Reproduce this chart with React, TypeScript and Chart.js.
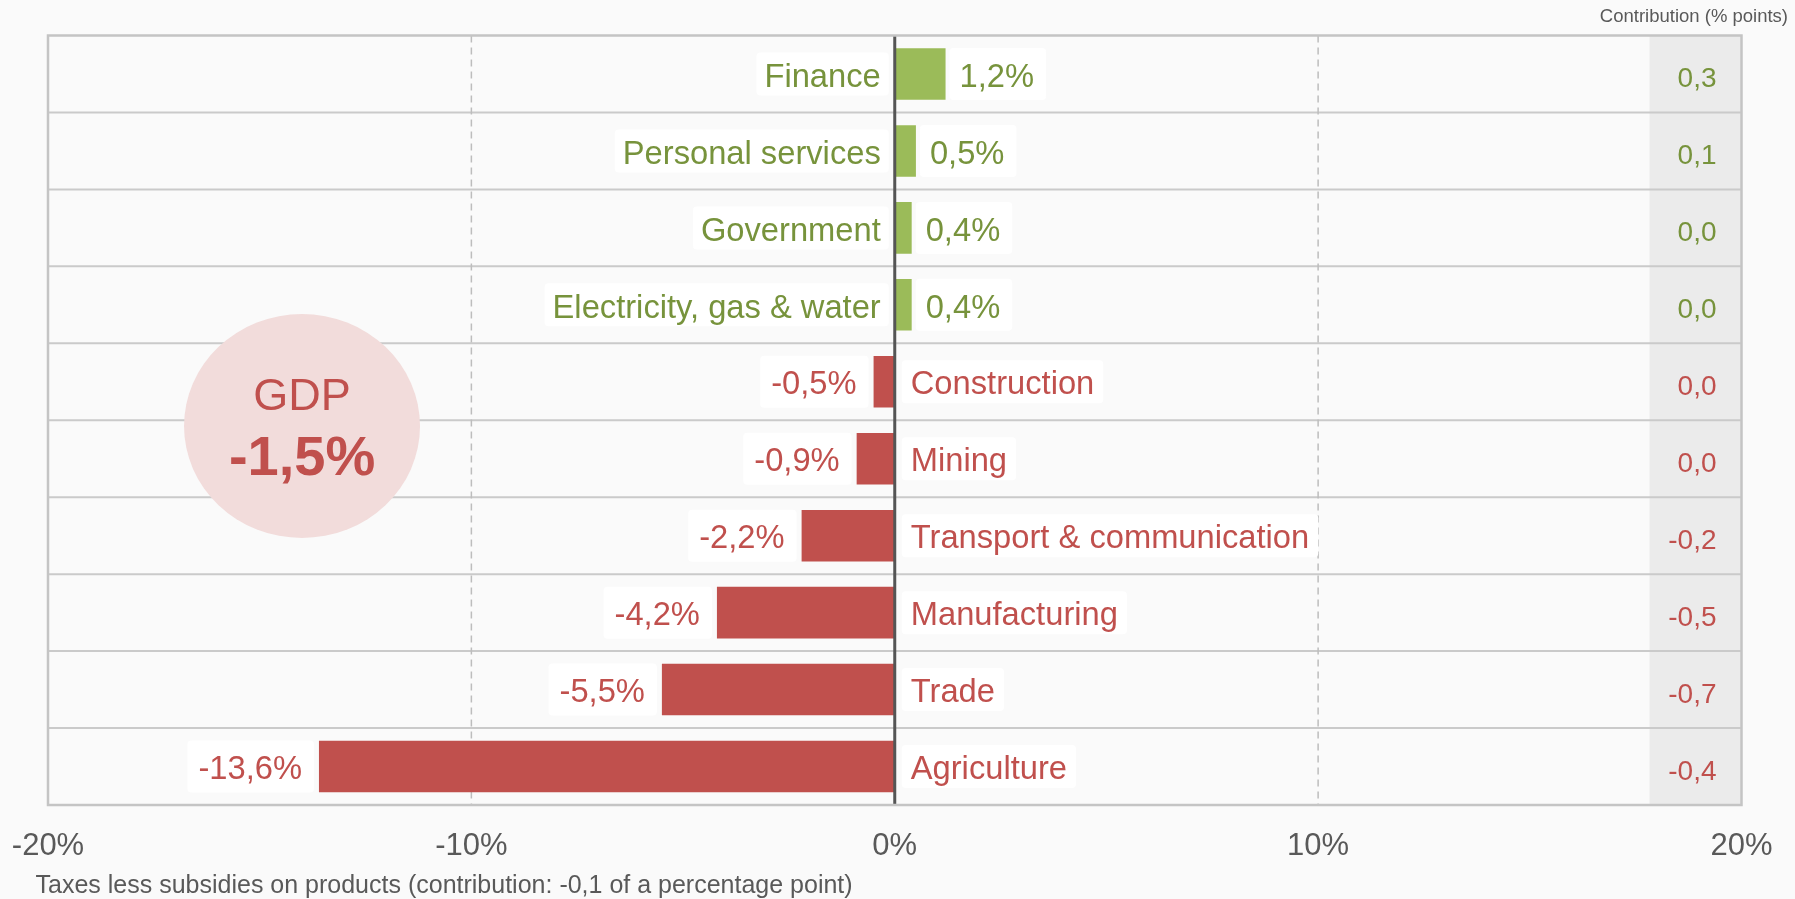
import React, { useEffect, useRef } from 'react';
import { Chart, registerables } from 'chart.js';

Chart.register(...registerables);

// ---- data ----
const categories: string[] = [
  'Finance',
  'Personal services',
  'Government',
  'Electricity, gas & water',
  'Construction',
  'Mining',
  'Transport & communication',
  'Manufacturing',
  'Trade',
  'Agriculture',
];
const growth: number[] = [1.2, 0.5, 0.4, 0.4, -0.5, -0.9, -2.2, -4.2, -5.5, -13.6];
const contribution: number[] = [0.3, 0.1, 0.0, 0.0, 0.0, 0.0, -0.2, -0.5, -0.7, -0.4];
const xTicks: number[] = [-20, -10, 0, 10, 20];
const dashedTicks: number[] = [-10, 10];
const gdpLabel = 'GDP';
const gdpGrowth = -1.5;
const contributionHeader = 'Contribution (% points)';
const footnote = 'Taxes less subsidies on products (contribution: -0,1 of a percentage point)';

// ---- styles ----
const FONT = '"Liberation Sans", Arial, Helvetica, sans-serif';
const GREEN_BAR = '#9BBB59';
const GREEN_TEXT = '#77933C';
const RED = '#C0504D';
const GREY_TEXT = '#595959';
const CAP = 0.358; // half cap-height ratio for Liberation Sans
const LABEL_SIZE = 32.7;

const fmt = (v: number) => v.toFixed(1).replace('.', ',');

function roundBox(ctx: CanvasRenderingContext2D, x: number, y: number, w: number, h: number, r: number) {
  ctx.beginPath();
  ctx.moveTo(x + r, y);
  ctx.lineTo(x + w - r, y);
  ctx.quadraticCurveTo(x + w, y, x + w, y + r);
  ctx.lineTo(x + w, y + h - r);
  ctx.quadraticCurveTo(x + w, y + h, x + w - r, y + h);
  ctx.lineTo(x + r, y + h);
  ctx.quadraticCurveTo(x, y + h, x, y + h - r);
  ctx.lineTo(x, y + r);
  ctx.quadraticCurveTo(x, y, x + r, y);
  ctx.closePath();
  ctx.fill();
}

function hLine(ctx: CanvasRenderingContext2D, x1: number, x2: number, y: number) {
  ctx.beginPath();
  ctx.moveTo(x1, y);
  ctx.lineTo(x2, y);
  ctx.stroke();
}
function vLine(ctx: CanvasRenderingContext2D, x: number, y1: number, y2: number) {
  ctx.beginPath();
  ctx.moveTo(x, y1);
  ctx.lineTo(x, y2);
  ctx.stroke();
}

const decorPlugin = {
  id: 'decor',
  beforeDraw(chart: any) {
    const { ctx, chartArea: a } = chart;
    const x = chart.scales.x;
    const y = chart.scales.y;
    ctx.save();
    ctx.fillStyle = '#FAFAFA';
    ctx.fillRect(0, 0, chart.width, chart.height);

    // contribution column
    ctx.fillStyle = '#EBEBEB';
    ctx.fillRect(a.right - 92, a.top, 92, a.bottom - a.top);

    // row separators
    ctx.strokeStyle = '#CACACA';
    ctx.lineWidth = 2;
    for (let i = 1; i < categories.length; i++) {
      const yy = (y.getPixelForValue(i - 1) + y.getPixelForValue(i)) / 2;
      hLine(ctx, a.left, a.right, yy);
    }

    // dashed gridlines
    ctx.setLineDash([7, 5]);
    ctx.strokeStyle = '#BDBDBD';
    ctx.lineWidth = 1.5;
    dashedTicks.forEach((v) => {
      const px = x.getPixelForValue(v);
      vLine(ctx, px, a.top, a.bottom);
    });
    ctx.setLineDash([]);

    // GDP bubble
    const cx = x.getPixelForValue(-14);
    const cy = a.top + 0.5075 * (a.bottom - a.top);
    ctx.fillStyle = '#F2DCDB';
    ctx.beginPath();
    ctx.ellipse(cx, cy, 118, 112, 0, 0, Math.PI * 2);
    ctx.fill();
    ctx.fillStyle = RED;
    ctx.textAlign = 'center';
    ctx.textBaseline = 'alphabetic';
    ctx.font = `45px ${FONT}`;
    ctx.fillText(gdpLabel, cx, cy - 32 + CAP * 45);
    ctx.font = `bold 56px ${FONT}`;
    ctx.fillText(fmt(gdpGrowth) + '%', cx, cy + 29 + CAP * 56);
    ctx.restore();
  },
  afterDatasetsDraw(chart: any) {
    const { ctx, chartArea: a } = chart;
    const x = chart.scales.x;
    const zero = x.getPixelForValue(0);
    const meta = chart.getDatasetMeta(0);
    ctx.save();

    // zero line
    ctx.strokeStyle = '#555555';
    ctx.lineWidth = 3;
    vLine(ctx, zero, a.top, a.bottom);

    // plot borders
    ctx.strokeStyle = '#C4C4C4';
    ctx.lineWidth = 2.5;
    ctx.strokeRect(a.left, a.top, a.right - a.left, a.bottom - a.top);

    ctx.textBaseline = 'alphabetic';
    meta.data.forEach((bar: any, i: number) => {
      const v = growth[i];
      const cy = bar.y;
      const ty = cy + 1 + CAP * LABEL_SIZE;
      const color = v >= 0 ? GREEN_TEXT : RED;
      const cat = categories[i];
      const val = fmt(v) + '%';
      ctx.font = `${LABEL_SIZE}px ${FONT}`;
      const catW = ctx.measureText(cat).width;
      const valW = ctx.measureText(val).width;
      if (v >= 0) {
        const boxR = zero - 6;
        const textR = boxR - 8;
        const boxL = textR - catW - 8;
        ctx.fillStyle = '#FFFFFF';
        roundBox(ctx, boxL, cy - 21.5, boxR - boxL, 43, 4);
        ctx.fillStyle = color;
        ctx.textAlign = 'right';
        ctx.fillText(cat, textR, ty);

        const vBoxL = bar.x + 4;
        const vTextL = vBoxL + 10;
        const vBoxR = vTextL + valW + 12;
        ctx.fillStyle = '#FFFFFF';
        roundBox(ctx, vBoxL, cy - 26, vBoxR - vBoxL, 52, 4);
        ctx.fillStyle = color;
        ctx.textAlign = 'left';
        ctx.fillText(val, vTextL, ty);
      } else {
        const boxL = zero + 7;
        const textL = boxL + 9;
        const boxR = textL + catW + 9;
        ctx.fillStyle = '#FFFFFF';
        roundBox(ctx, boxL, cy - 21.5, boxR - boxL, 43, 4);
        ctx.fillStyle = color;
        ctx.textAlign = 'left';
        ctx.fillText(cat, textL, ty);

        const vBoxR = bar.x - 5;
        const vTextR = vBoxR - 12;
        const vBoxL = vTextR - valW - 11;
        ctx.fillStyle = '#FFFFFF';
        roundBox(ctx, vBoxL, cy - 26, vBoxR - vBoxL, 52, 4);
        ctx.fillStyle = color;
        ctx.textAlign = 'right';
        ctx.fillText(val, vTextR, ty);
      }

      // contribution column
      ctx.font = `28px ${FONT}`;
      ctx.fillStyle = color;
      ctx.textAlign = 'right';
      ctx.fillText(fmt(contribution[i]), a.right - 25, cy + 3 + CAP * 28);
    });

    // header
    ctx.font = `18.5px ${FONT}`;
    ctx.fillStyle = GREY_TEXT;
    ctx.textAlign = 'right';
    ctx.textBaseline = 'middle';
    ctx.fillText(contributionHeader, chart.width - 7, 17);

    // footnote
    ctx.font = `25px ${FONT}`;
    ctx.textAlign = 'left';
    ctx.fillText(footnote, 35.5, 886);

    ctx.restore();
  },
};

export default function App() {
  const ref = useRef<HTMLCanvasElement | null>(null);

  useEffect(() => {
    if (!ref.current) return;
    const chart = new Chart(ref.current, {
      type: 'bar',
      data: {
        labels: categories,
        datasets: [
          {
            data: growth,
            backgroundColor: growth.map((v) => (v >= 0 ? GREEN_BAR : RED)),
            borderWidth: 0,
            barPercentage: 0.67,
            categoryPercentage: 1,
          },
        ],
      },
      options: {
        indexAxis: 'y',
        responsive: false,
        maintainAspectRatio: false,
        devicePixelRatio: 1,
        animation: false,
        layout: { padding: { left: 48, right: 53.5, top: 35.5, bottom: 35.4 } },
        plugins: {
          legend: { display: false },
          tooltip: { enabled: false },
          title: { display: false },
        },
        scales: {
          x: {
            type: 'linear',
            min: -20,
            max: 20,
            afterBuildTicks: (s: any) => {
              s.ticks = xTicks.map((v) => ({ value: v }));
            },
            afterFit: (s: any) => {
              s.height = 58.6;
              s.paddingLeft = 0;
              s.paddingRight = 0;
            },
            grid: { display: false, drawTicks: false },
            border: { display: false },
            ticks: {
              padding: 22.5,
              color: GREY_TEXT,
              font: { family: FONT, size: 31 },
              maxRotation: 0,
              autoSkip: false,
              callback: (v: any) => `${v}%`,
            },
          },
          y: {
            type: 'category',
            display: false,
          },
        },
      },
      plugins: [decorPlugin],
    } as any);
    return () => chart.destroy();
  }, []);

  return (
    <div
      style={{
        position: 'fixed',
        left: 0,
        top: 0,
        width: 1795,
        height: 899,
        background: '#FAFAFA',
      }}
    >
      <canvas ref={ref} width={1795} height={899} style={{ display: 'block', width: 1795, height: 899 }} />
    </div>
  );
}
